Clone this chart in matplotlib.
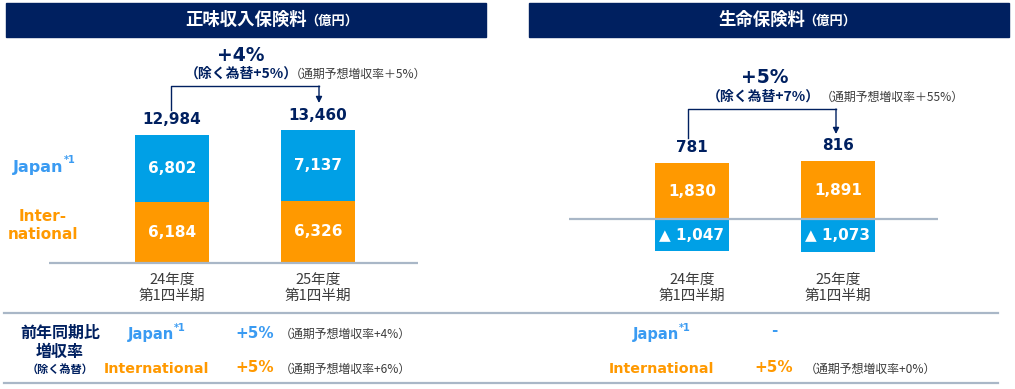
import matplotlib.pyplot as plt
from matplotlib.patches import Rectangle
from matplotlib.transforms import blended_transform_factory

W, H = 1015, 389

NAVY = "#002060"
BLUE = "#00A0E6"
ORANGE = "#FF9900"
JP_TEXT = "#3A9BF2"
GRID = "#A9B7C7"
GRAY = "#3C3C3C"

JP = ["Noto Sans CJK JP", "DejaVu Sans"]
LAT = ["DejaVu Sans", "Noto Sans CJK JP"]

# data
periods = ["24年度\n第1四半期", "25年度\n第1四半期"]
nwp_japan = [6802, 7137]
nwp_intl = [6184, 6326]
nwp_total = [12984, 13460]
life_intl = [1830, 1891]
life_japan = [-1047, -1073]
life_total = [781, 816]

nwp_growth = "+4%"
nwp_growth_exfx = "（除く為替+5%）"
nwp_growth_fy = "（通期予想増収率＋5%）"
life_growth = "+5%"
life_growth_exfx = "（除く為替+7%）"
life_growth_fy = "（通期予想増収率＋55%）"

table_left = [("Japan", "+5%", "（通期予想増収率+4%）"),
              ("International", "+5%", "（通期予想増収率+6%）")]
table_right = [("Japan", "-", ""),
               ("International", "+5%", "（通期予想増収率+0%）")]


def main():
    fig = plt.figure(figsize=(W / 100, H / 100), dpi=100)

    def fig_axes(x0, y0, x1, y1, **kw):
        # pixel box -> figure fraction
        return fig.add_axes([x0 / W, 1 - y1 / H, (x1 - x0) / W, (y1 - y0) / H], **kw)

    ov = fig_axes(0, 0, W, H, zorder=5)
    ov.set_xlim(0, W)
    ov.set_ylim(H, 0)
    ov.axis("off")

    ax1 = fig_axes(49, 100, 418, 270, zorder=1)
    ax2 = fig_axes(569, 100, 938, 300, zorder=1)

    x = [0, 1]
    bw = 0.507
    for ax in (ax1, ax2):
        ax.set_xlim(-0.842, 1.685)
        ax.axis("off")
        ax.axhline(0, color=GRID, lw=1.6, zorder=3)

    # 正味収入保険料
    ax1.set_ylim(-710, 16535)
    ax1.bar(x, nwp_intl, width=bw, color=ORANGE, zorder=2)
    ax1.bar(x, nwp_japan, width=bw, bottom=nwp_intl, color=BLUE, zorder=2)
    for i in x:
        ax1.text(i, nwp_intl[i] / 2, f"{nwp_intl[i]:,}", ha="center", va="center",
                 color="white", fontsize=11, fontweight="bold", family=LAT, zorder=4)
        ax1.text(i, nwp_intl[i] + nwp_japan[i] / 2, f"{nwp_japan[i]:,}", ha="center",
                 va="center", color="white", fontsize=11, fontweight="bold", family=LAT, zorder=4)
        ax1.annotate(f"{nwp_total[i]:,}", (i, nwp_total[i]), xytext=(0, 11),
                     textcoords="offset points", ha="center", va="center",
                     color=NAVY, fontsize=11, fontweight="bold", family=LAT)

    # 生命保険料
    ax2.set_ylim(-2647, 3889)
    ax2.bar(x, life_intl, width=bw, color=ORANGE, zorder=2)
    ax2.bar(x, life_japan, width=bw, color=BLUE, zorder=2)
    for i in x:
        ax2.text(i, life_intl[i] / 2, f"{life_intl[i]:,}", ha="center", va="center",
                 color="white", fontsize=11, fontweight="bold", family=LAT, zorder=4)
        ax2.text(i, life_japan[i] / 2, f"▲ {-life_japan[i]:,}", ha="center", va="center",
                 color="white", fontsize=11, fontweight="bold", family=LAT, zorder=4)
        ax2.annotate(f"{life_total[i]:,}", (i, life_intl[i]), xytext=(0, 11),
                     textcoords="offset points", ha="center", va="center",
                     color=NAVY, fontsize=11, fontweight="bold", family=LAT)

    # category labels
    for ax in (ax1, ax2):
        tr = blended_transform_factory(ax.transData, ov.transData)
        for i, p in enumerate(periods):
            top, bottom = p.split("\n")
            ax.text(i, 280, top, transform=tr, ha="center", va="center",
                    fontsize=10.5, color=GRAY, family=JP)
            ax.text(i, 296, bottom, transform=tr, ha="center", va="center",
                    fontsize=10.5, color=GRAY, family=JP)

    # headers
    ov.add_patch(Rectangle((6, 3), 480, 34, color=NAVY))
    ov.add_patch(Rectangle((529, 3), 480, 34, color=NAVY))
    ov.text(307, 20, "正味収入保険料", ha="right", va="center", color="white",
            fontsize=12.5, fontweight="bold", family=JP)
    ov.text(305, 21, "（億円）", ha="left", va="center", color="white",
            fontsize=9.5, fontweight="bold", family=JP)
    ov.text(805, 20, "生命保険料", ha="right", va="center", color="white",
            fontsize=12.5, fontweight="bold", family=JP)
    ov.text(803, 21, "（億円）", ha="left", va="center", color="white",
            fontsize=9.5, fontweight="bold", family=JP)

    # growth brackets
    ov.plot([171, 171, 319], [110, 86, 86], color=NAVY, lw=1)
    ov.annotate("", xy=(319, 103), xytext=(319, 86),
                arrowprops=dict(arrowstyle="-|>", color=NAVY, lw=1,
                                mutation_scale=9, shrinkA=0, shrinkB=0))
    ov.plot([688, 688, 836], [138, 109, 109], color=NAVY, lw=1)
    ov.annotate("", xy=(836, 134), xytext=(836, 109),
                arrowprops=dict(arrowstyle="-|>", color=NAVY, lw=1,
                                mutation_scale=9, shrinkA=0, shrinkB=0))

    ov.text(241, 55, nwp_growth, ha="center", va="center", color=NAVY,
            fontsize=13.5, fontweight="bold", family=LAT)
    ov.text(241, 74, nwp_growth_exfx, ha="center", va="center", color=NAVY,
            fontsize=10, fontweight="bold", family=JP)
    ov.text(290, 74, nwp_growth_fy, ha="left", va="center", color=GRAY,
            fontsize=8.6, family=JP)
    ov.text(765, 77, life_growth, ha="center", va="center", color=NAVY,
            fontsize=13.5, fontweight="bold", family=LAT)
    ov.text(763, 97, life_growth_exfx, ha="center", va="center", color=NAVY,
            fontsize=10, fontweight="bold", family=JP)
    ov.text(821, 97, life_growth_fy, ha="left", va="center", color=GRAY,
            fontsize=8.6, family=JP)

    # series labels
    ov.text(13, 167, "Japan", ha="left", va="center", color=JP_TEXT,
            fontsize=11.5, fontweight="bold", family=LAT)
    ov.text(64, 160, "*1", ha="left", va="center", color=JP_TEXT,
            fontsize=7, fontweight="bold", family=LAT)
    ov.text(43, 216, "Inter-", ha="center", va="center", color=ORANGE,
            fontsize=11, fontweight="bold", family=LAT)
    ov.text(43, 234, "national", ha="center", va="center", color=ORANGE,
            fontsize=11, fontweight="bold", family=LAT)

    # table
    ov.plot([4, 998], [313, 313], color=GRID, lw=1.6)
    ov.plot([4, 998], [383, 383], color=GRID, lw=1.6)
    ov.text(60, 333, "前年同期比", ha="center", va="center", color=NAVY,
            fontsize=11.5, fontweight="bold", family=JP)
    ov.text(60, 352, "増収率", ha="center", va="center", color=NAVY,
            fontsize=11.5, fontweight="bold", family=JP)
    ov.text(60, 369, "（除く為替）", ha="center", va="center", color=NAVY,
            fontsize=8, fontweight="bold", family=JP)

    for rows, name_x, sup_x, val_x, fy_x in ((table_left, 128, 174, 255, 280),
                                             (table_right, 633, 679, 774, 805)):
        for (name, val, fy), y, col in zip(rows, (334, 369), (JP_TEXT, ORANGE)):
            if name == "Japan":
                ov.text(name_x, y, name, ha="left", va="center", color=col,
                        fontsize=10.5, fontweight="bold", family=LAT)
                ov.text(sup_x, y - 6, "*1", ha="left", va="center", color=col,
                        fontsize=7, fontweight="bold", family=LAT)
            else:
                ov.text(name_x + 29, y, name, ha="center", va="center", color=col,
                        fontsize=10.3, fontweight="bold", family=LAT)
            ov.text(val_x, y - 1 if val != "-" else y - 3, val, ha="center",
                    va="center", color=col, fontsize=11, fontweight="bold", family=LAT)
            if fy:
                ov.text(fy_x, y, fy, ha="left", va="center", color=GRAY,
                        fontsize=8.6, family=JP)

    plt.savefig("out.png", dpi=100)


if __name__ == "__main__":
    main()
